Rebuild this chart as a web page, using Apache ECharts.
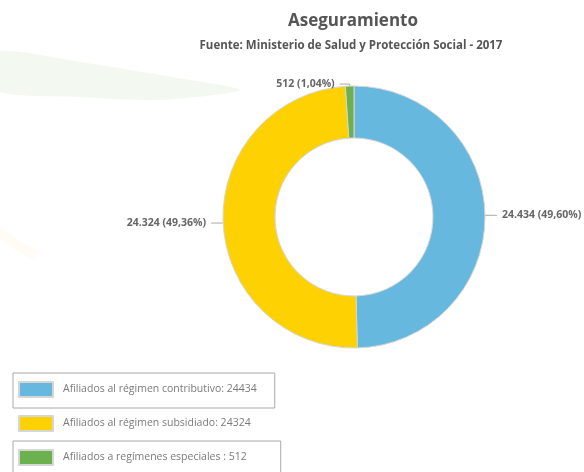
<!DOCTYPE html>
<html>
<head>
<meta charset="utf-8">
<script src="https://cdn.jsdelivr.net/npm/echarts@6/dist/echarts.min.js"></script>
<style>
  html, body { margin: 0; padding: 0; background: #fff; }
  #chart { width: 584px; height: 472px; }
</style>
</head>
<body>
<div id="chart"></div>
<script>
// datos
var categorias = ['Afiliados al régimen contributivo', 'Afiliados al régimen subsidiado', 'Afiliados a regímenes especiales'];
var valores = [24434, 24324, 512];
var etiquetasValor = ['24.434', '24.324', '512'];
var porcentajes = ['49,60%', '49,36%', '1,04%'];
var textosLeyenda = ['Afiliados al régimen contributivo: 24434', 'Afiliados al régimen subsidiado: 24324', 'Afiliados a regímenes especiales : 512'];
var colores = ['#66b8de', '#fdd102', '#6bb14d'];

var myChart = echarts.init(document.getElementById('chart'));

var datos = categorias.map(function (c, i) {
  return { name: c, value: valores[i], itemStyle: { color: colores[i] } };
});

function leyenda(i, top, borde) {
  return {
    data: [categorias[i]],
    left: 13,
    top: top,
    orient: 'vertical',
    itemWidth: 34,
    itemHeight: 15,
    icon: 'rect',
    borderColor: borde ? '#aaa' : 'transparent',
    borderWidth: borde ? 1 : 0,
    padding: i === 2 ? [8, 34, 10, 5] : [8, 18, 10, 5],
    selectedMode: false,
    formatter: function () { return textosLeyenda[i]; },
    textStyle: { color: '#7a7a7a', fontSize: 10.5, fontFamily: 'Open Sans', padding: [0, 0, 0, 5] }
  };
}

var option = {
  backgroundColor: '#fff',
  title: [{
    text: 'Aseguramiento',
    left: 348,
    textAlign: 'center',
    top: 8,
    textStyle: { color: '#555', fontSize: 17, fontWeight: 'bold', fontFamily: 'Open Sans' }
  }, {
    text: 'Fuente: Ministerio de Salud y Protección Social - 2017',
    left: 346,
    textAlign: 'center',
    top: 35,
    textStyle: { color: '#555', fontSize: 11.5, fontWeight: 'bold', fontFamily: 'Open Sans' }
  }],
  graphic: [{
    type: 'polygon',
    silent: true,
    z: -10,
    shape: {
      smooth: 0.25,
      points: [[-5, 52], [80, 62], [160, 75], [240, 90], [160, 100], [80, 97], [-5, 90]]
    },
    style: { fill: 'rgba(225,238,218,0.4)' }
  }, {
    type: 'bezierCurve',
    silent: true,
    z: -10,
    shape: { x1: -10, y1: 225, cpx1: 10, cpy1: 240, cpx2: 20, cpy2: 248, x2: 35, y2: 255 },
    style: { stroke: 'rgba(253,240,205,0.2)', lineWidth: 10, fill: null }
  }],
  legend: [leyenda(0, 373, true), leyenda(1, 407, false), leyenda(2, 441, true)],
  series: [{
    type: 'pie',
    center: [354, 217],
    radius: [79, 131],
    startAngle: 90,
    clockwise: true,
    avoidLabelOverlap: false,
    itemStyle: { borderColor: '#d6d6d6', borderWidth: 1 },
    label: {
      show: true,
      position: 'outside',
      color: '#666',
      fontSize: 10.5,
      fontWeight: 'bold',
      fontFamily: 'Open Sans',
      formatter: function (p) {
        return etiquetasValor[p.dataIndex] + ' (' + porcentajes[p.dataIndex] + ')';
      }
    },
    labelLine: {
      show: true,
      length: 2,
      length2: 10,
      lineStyle: { color: '#aaa', width: 1 }
    },
    emphasis: { disabled: true },
    data: datos
  }]
};

myChart.setOption(option);
</script>
</body>
</html>
